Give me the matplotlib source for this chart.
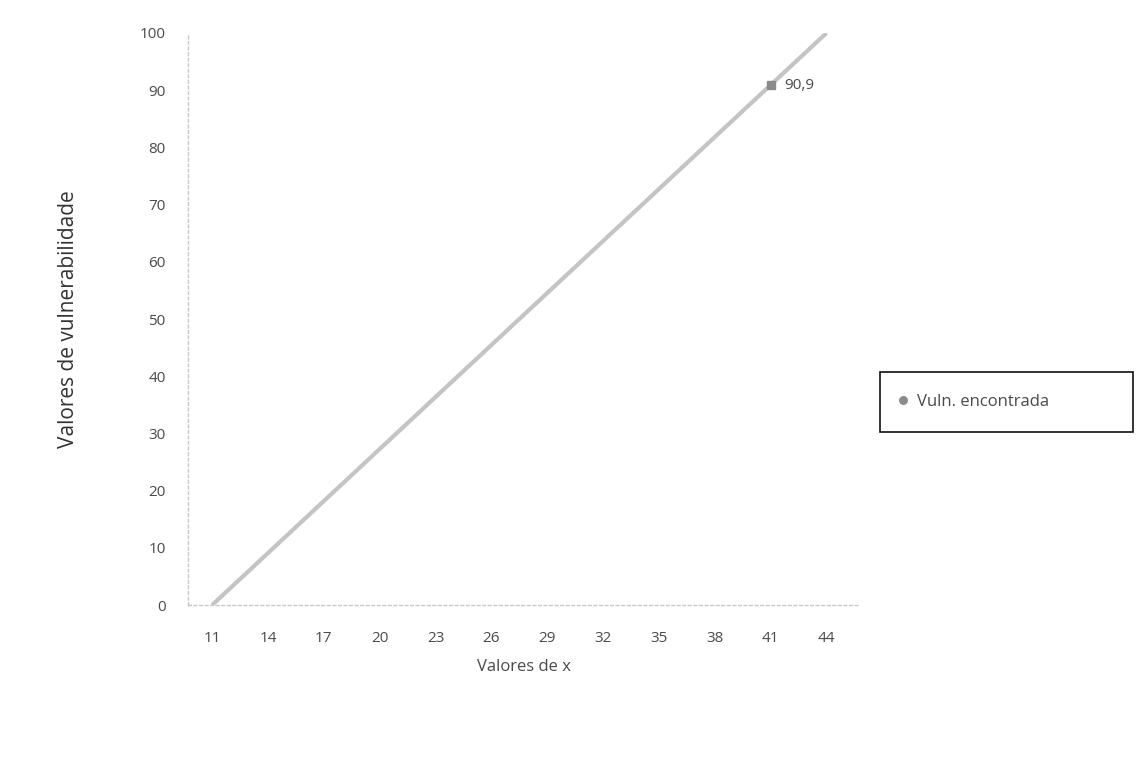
import matplotlib.pyplot as plt
from matplotlib.patches import Rectangle

# vulnerability line and the point found on it
x_line = [11, 44]
y_line = [0, 100]
x_found = [41]
y_found = [90.9]

x_ticks = [11, 14, 17, 20, 23, 26, 29, 32, 35, 38, 41, 44]
y_ticks = [0, 10, 20, 30, 40, 50, 60, 70, 80, 90, 100]

txt = '#4a4a4a'
plt.rcParams['font.family'] = ['Open Sans', 'DejaVu Sans']

fig = plt.figure(figsize=(11.37, 7.74), dpi=100)
ax = fig.add_axes([0.1653, 0.2183, 0.5911, 0.7391])

ax.plot(x_line, y_line, color='#c4c4c4', lw=3, solid_capstyle='butt', zorder=2)
ax.plot(x_found, y_found, ls='none', marker='s', ms=6, color='#8a8a8a',
        label='Vuln. encontrada', zorder=3)
ax.annotate(f'{y_found[0]:.1f}'.replace('.', ','), (x_found[0], y_found[0]),
            xytext=(10, 0), textcoords='offset points', va='center',
            fontsize=11, color=txt)

ax.set_xlim(9.7, 45.8)
ax.set_ylim(0, 100)
ax.set_xticks(x_ticks)
ax.set_yticks(y_ticks)
ax.tick_params(axis='both', length=0, labelsize=11, labelcolor=txt)
ax.tick_params(axis='x', pad=19)
ax.tick_params(axis='y', pad=16)

for side in ['top', 'right']:
    ax.spines[side].set_visible(False)
for side in ['left', 'bottom']:
    ax.spines[side].set_color('#c8c8c8')
    ax.spines[side].set_linestyle((0, (2, 2)))
    ax.spines[side].set_linewidth(1)

ax.set_xlabel('Valores de x', fontsize=12, color=txt, labelpad=9)
ax.set_ylabel('Valores de vulnerabilidade', fontsize=15, color='#333333', labelpad=44)

# legend box stretched to a fixed width on the right
leg_box = (880 / 1137, 1 - 432 / 774, 253 / 1137, 60 / 774)
leg = fig.legend(loc='center left', bbox_to_anchor=leg_box, mode='expand', fontsize=12,
                 frameon=False, handlelength=0.6, handletextpad=0.5,
                 borderpad=1.1, borderaxespad=0, labelcolor=txt, markerscale=0.9)
leg.legend_handles[0].set_marker('o')
fig.patches.append(Rectangle(leg_box[:2], leg_box[2], leg_box[3], transform=fig.transFigure,
                             fill=False, edgecolor='#111111', lw=1.2))

fig.savefig('out.png', dpi=100)
